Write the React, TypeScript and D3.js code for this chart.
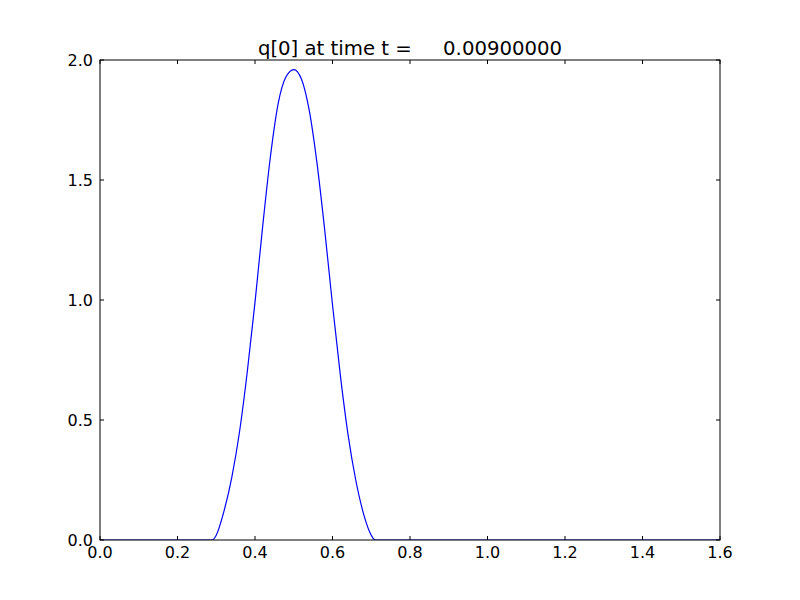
import React from "react";
import * as d3 from "d3";

const xValues = [0.0, 0.2, 0.28, 0.29, 0.3, 0.32, 0.34, 0.36, 0.38, 0.4, 0.42, 0.44, 0.46, 0.48, 0.5, 0.52, 0.54, 0.56, 0.58, 0.6, 0.62, 0.64, 0.66, 0.68, 0.7, 0.71, 0.72, 1.0, 1.6];
const qValues = [0, 0, 0, 0, 0.02, 0.12, 0.26, 0.45, 0.7, 0.99, 1.31, 1.6, 1.82, 1.93, 1.96, 1.92, 1.79, 1.57, 1.29, 0.98, 0.69, 0.44, 0.25, 0.11, 0.02, 0, 0, 0, 0];
const xTicks = [0.0, 0.2, 0.4, 0.6, 0.8, 1.0, 1.2, 1.4, 1.6];
const yTicks = [0.0, 0.5, 1.0, 1.5, 2.0];
const titleText = "q[0] at time t =     0.00900000";

const W = 800, H = 600;
const L = 100, R = 720, T = 60, B = 540;

export default function App() {
  const x = d3.scaleLinear().domain([0, 1.6]).range([L, R]);
  const y = d3.scaleLinear().domain([0, 2.0]).range([B, T]);
  const pts: [number, number][] = xValues.map((v, i) => [v, qValues[i]]);
  const line = d3.line<[number, number]>().x(d => x(d[0])).y(d => y(d[1])).curve(d3.curveMonotoneX);
  const font = "DejaVu Sans, sans-serif";
  return (
    <svg width={W} height={H} style={{ position: "absolute", left: 0, top: 0, background: "#fff" }}>
      <rect x={0} y={0} width={W} height={H} fill="#fff" />
      <clipPath id="clip"><rect x={L} y={T} width={R - L} height={B - T} /></clipPath>
      <path d={line(pts) || ""} fill="none" stroke="#0000ff" strokeWidth={1.2} clipPath="url(#clip)" />
      <rect x={L} y={T} width={R - L} height={B - T} fill="none" stroke="#000" strokeWidth={1} />
      {xTicks.map(t => (
        <g key={"x" + t}>
          <line x1={x(t)} x2={x(t)} y1={B} y2={B - 4} stroke="#000" />
          <line x1={x(t)} x2={x(t)} y1={T} y2={T + 4} stroke="#000" />
          <text x={x(t)} y={B + 18} textAnchor="middle" fontFamily={font} fontSize={16} fill="#000">{t.toFixed(1)}</text>
        </g>
      ))}
      {yTicks.map(t => (
        <g key={"y" + t}>
          <line x1={L} x2={L + 4} y1={y(t)} y2={y(t)} stroke="#000" />
          <line x1={R} x2={R - 4} y1={y(t)} y2={y(t)} stroke="#000" />
          <text x={L - 7} y={y(t) + 6} textAnchor="end" fontFamily={font} fontSize={16} fill="#000">{t.toFixed(1)}</text>
        </g>
      ))}
      <text x={(L + R) / 2} y={T - 5} textAnchor="middle" fontFamily={font} fontSize={19.7} fill="#000" style={{ whiteSpace: "pre" }} xmlSpace="preserve">{titleText}</text>
    </svg>
  );
}
